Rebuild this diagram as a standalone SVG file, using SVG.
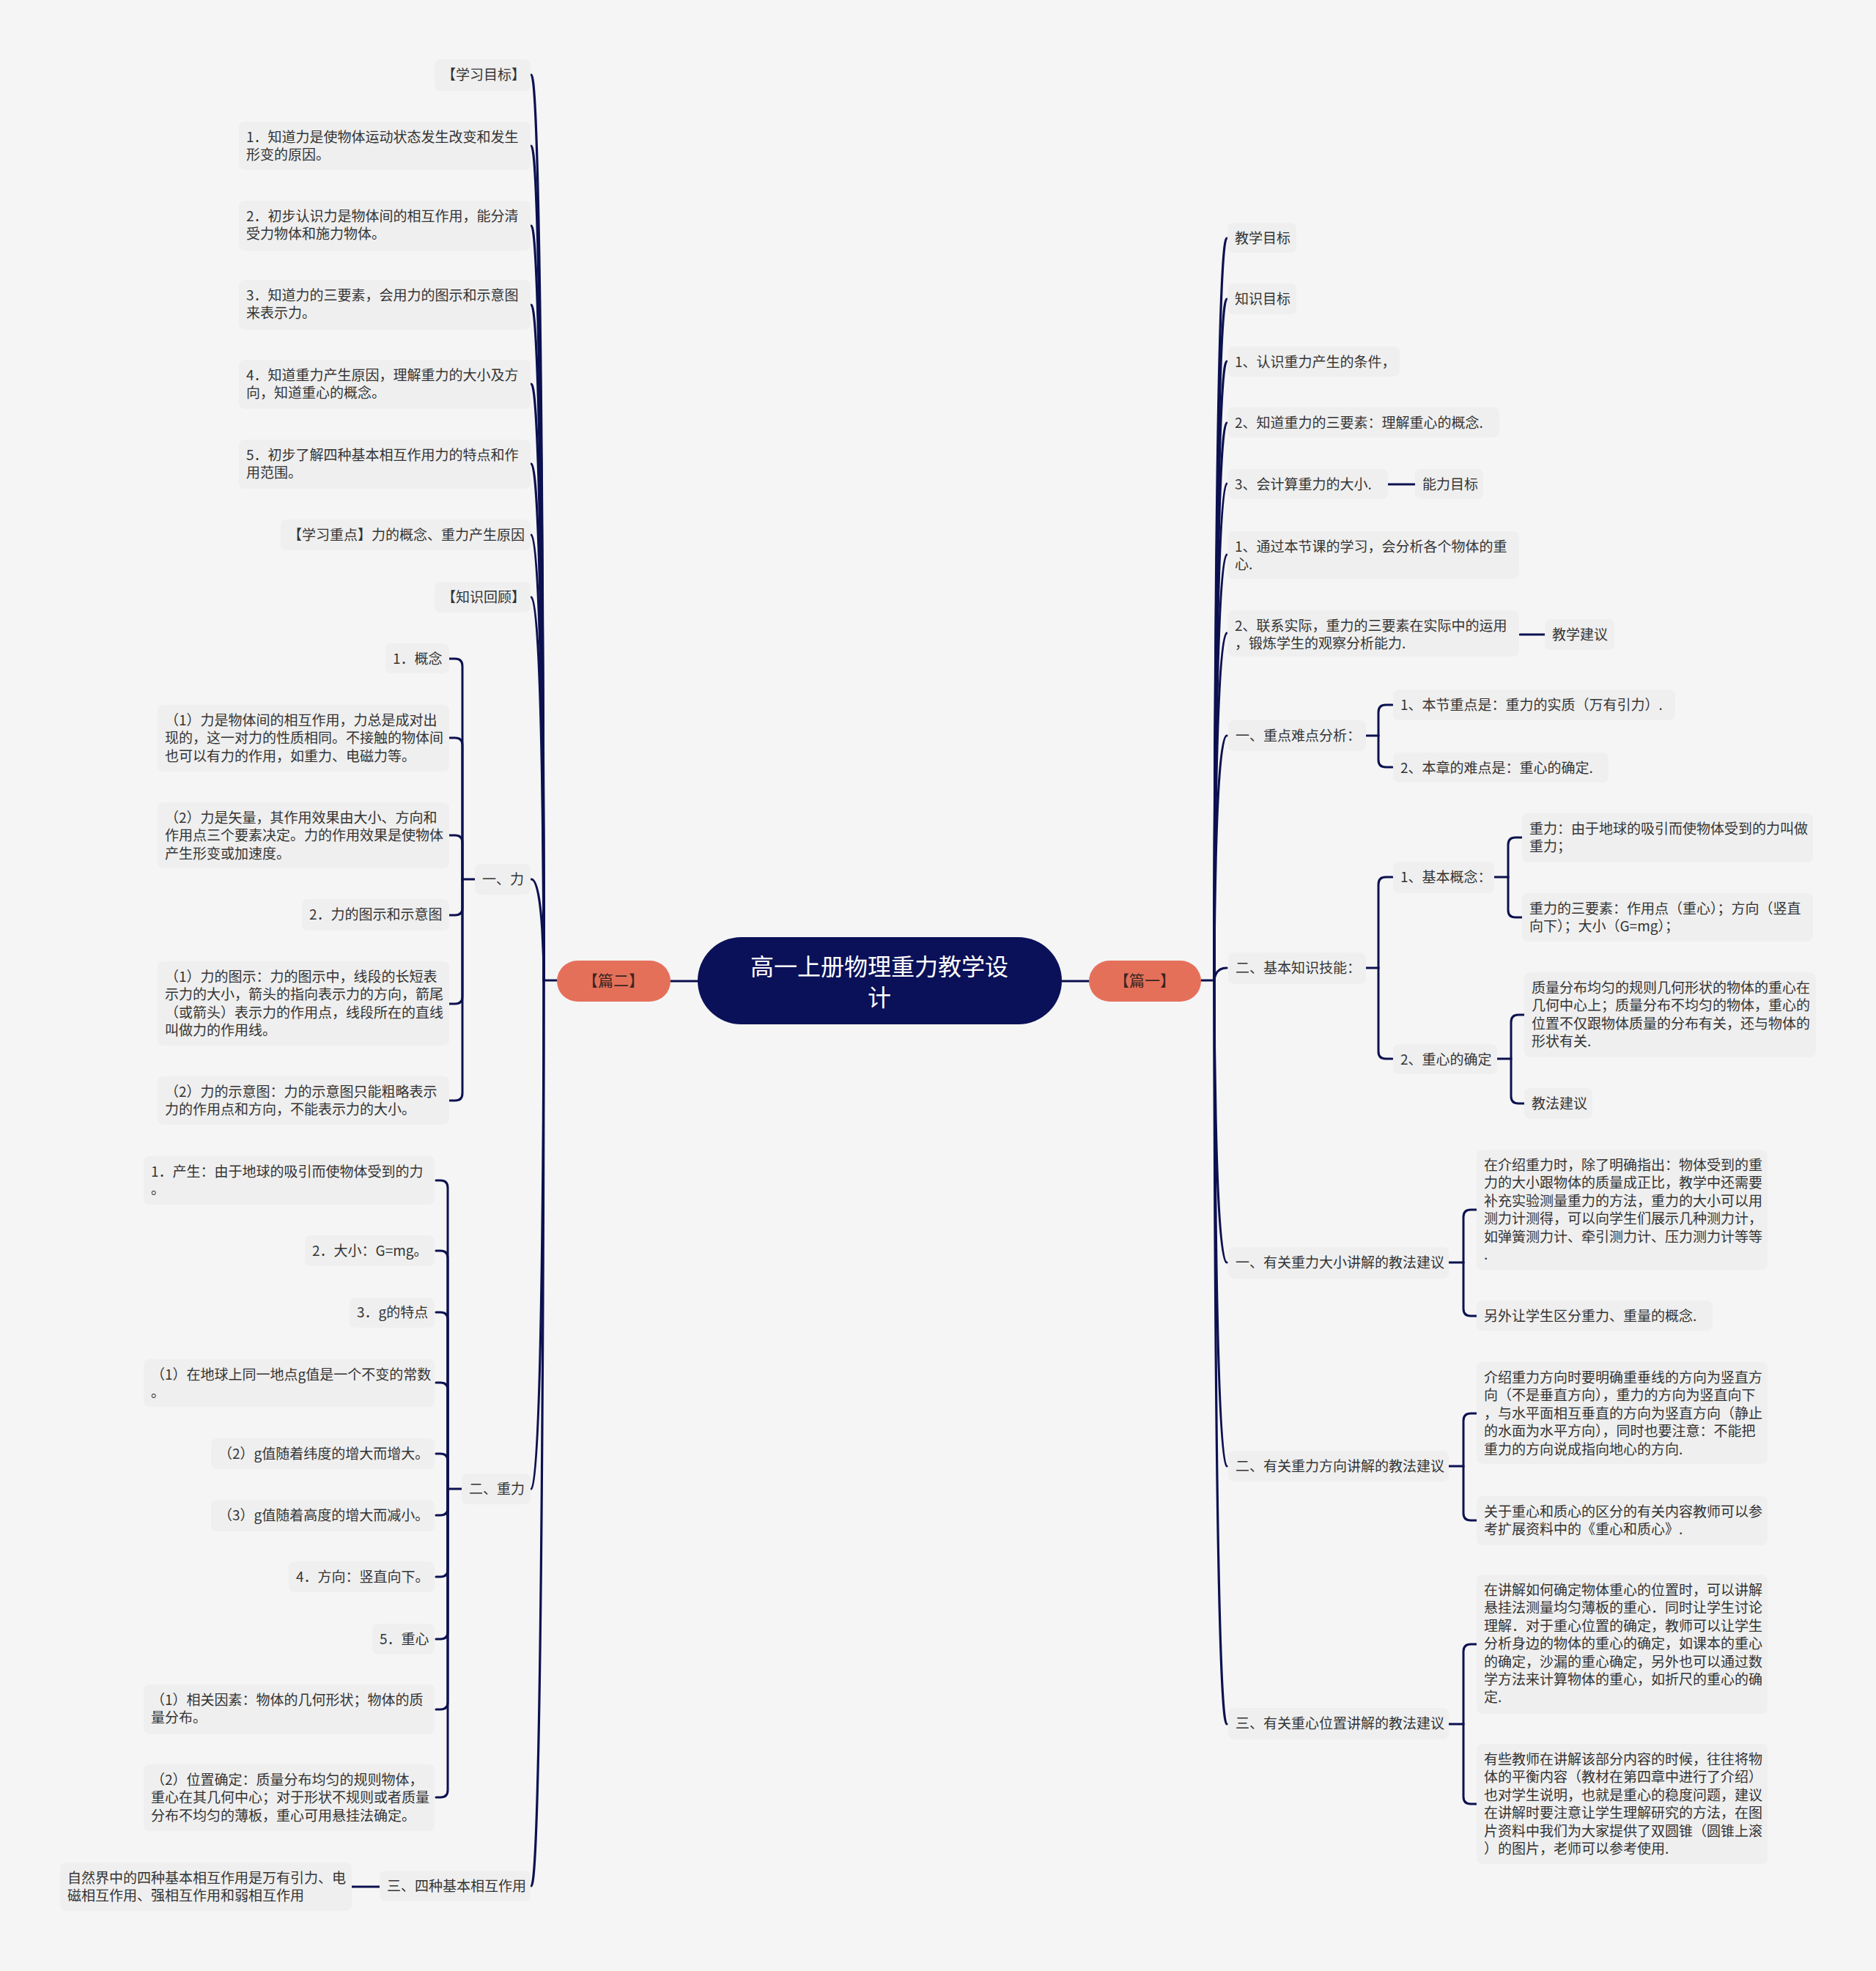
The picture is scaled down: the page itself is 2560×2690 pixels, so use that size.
<svg xmlns="http://www.w3.org/2000/svg" width="2560" height="2690" viewBox="0 0 2560 2690">
<style>
.bg{fill:#f5f5f5}
.box{fill:#efefef}
.t{font-family:"Noto Sans CJK SC","Noto Sans",sans-serif;font-size:19px;fill:#333}
.main{fill:none;stroke:#0c1150;stroke-width:3.2;stroke-linecap:round}
.sub{fill:none;stroke:#0c1150;stroke-width:3;stroke-linecap:round;stroke-linejoin:round}
.tag{fill:#e5705a}
.tagt{font-family:"Noto Sans CJK SC","Noto Sans",sans-serif;font-size:21px;fill:#3a2622;text-anchor:middle}
.roott{font-family:"Noto Sans CJK SC","Noto Sans",sans-serif;font-size:32px;fill:#ffffff;text-anchor:middle}
</style>
<rect class="bg" x="0" y="0" width="2560" height="2690"/>

<g id="connectors">
<!-- root to tags -->
<path class="main" d="M915,1339 H952 M1449,1339 H1486"/>
<path class="main" d="M760,1338 H742 M1639,1338 H1657"/>
<!-- left main branches -->
<path class="main" d="M725,102 C742,102 742,1338 742,1338"/>
<path class="main" d="M725,199 C742,199 742,1338 742,1338"/>
<path class="main" d="M725,308 C742,308 742,1338 742,1338"/>
<path class="main" d="M725,416 C742,416 742,1338 742,1338"/>
<path class="main" d="M725,524 C742,524 742,1338 742,1338"/>
<path class="main" d="M725,633 C742,633 742,1338 742,1338"/>
<path class="main" d="M725,730 C742,730 742,1338 742,1338"/>
<path class="main" d="M725,815 C742,815 742,1338 742,1338"/>
<path class="main" d="M725,1200 C742,1200 742,1338 742,1338"/>
<path class="main" d="M725,2032 C742,2032 742,1338 742,1338"/>
<path class="main" d="M725,2574 C742,2574 742,1338 742,1338"/>
<!-- right main branches -->
<path class="main" d="M1674,325 C1657,325 1657,1338 1657,1338"/>
<path class="main" d="M1674,408 C1657,408 1657,1338 1657,1338"/>
<path class="main" d="M1674,493 C1657,493 1657,1338 1657,1338"/>
<path class="main" d="M1674,577 C1657,577 1657,1338 1657,1338"/>
<path class="main" d="M1674,660 C1657,660 1657,1338 1657,1338"/>
<path class="main" d="M1674,757 C1657,757 1657,1338 1657,1338"/>
<path class="main" d="M1674,864 C1657,864 1657,1338 1657,1338"/>
<path class="main" d="M1674,1004 C1657,1004 1657,1338 1657,1338"/>
<path class="main" d="M1674,1321 C1657,1321 1657,1338 1657,1338"/>
<path class="main" d="M1674,1723 C1657,1723 1657,1338 1657,1338"/>
<path class="main" d="M1674,2001 C1657,2001 1657,1338 1657,1338"/>
<path class="main" d="M1674,2353 C1657,2353 1657,1338 1657,1338"/>
<!-- simple links -->
<path class="sub" d="M1894,661 H1931"/>
<path class="sub" d="M2074,866 H2108"/>
<path class="sub" d="M480,2575 H518"/>
<!-- 一、力 bracket -->
<path class="sub" d="M648,1200 H631"/>
<path class="sub" d="M631,1200 V909 Q631,899 621,899 H613"/>
<path class="sub" d="M631,1200 V1017 Q631,1007 621,1007 H613"/>
<path class="sub" d="M631,1200 V1150 Q631,1140 621,1140 H613"/>
<path class="sub" d="M631,1200 V1239 Q631,1249 621,1249 H613"/>
<path class="sub" d="M631,1200 V1360 Q631,1370 621,1370 H613"/>
<path class="sub" d="M631,1200 V1492 Q631,1502 621,1502 H613"/>
<!-- 二、重力 bracket -->
<path class="sub" d="M630,2032 H611"/>
<path class="sub" d="M611,2032 V1621 Q611,1611 601,1611 H595"/>
<path class="sub" d="M611,2032 V1717 Q611,1707 601,1707 H595"/>
<path class="sub" d="M611,2032 V1801 Q611,1791 601,1791 H595"/>
<path class="sub" d="M611,2032 V1897 Q611,1887 601,1887 H595"/>
<path class="sub" d="M611,2032 V1994 Q611,1984 601,1984 H595"/>
<path class="sub" d="M611,2032 V2058 Q611,2068 601,2068 H595"/>
<path class="sub" d="M611,2032 V2142 Q611,2152 601,2152 H595"/>
<path class="sub" d="M611,2032 V2227 Q611,2237 601,2237 H595"/>
<path class="sub" d="M611,2032 V2323 Q611,2333 601,2333 H595"/>
<path class="sub" d="M611,2032 V2443 Q611,2453 601,2453 H595"/>
<!-- 一、重点难点分析 -->
<path class="sub" d="M1864,1004 H1881"/>
<path class="sub" d="M1881,1004 V972 Q1881,962 1891,962 H1900"/>
<path class="sub" d="M1881,1004 V1037 Q1881,1047 1891,1047 H1900"/>
<!-- 二、基本知识技能 -->
<path class="sub" d="M1864,1321 H1881"/>
<path class="sub" d="M1881,1321 V1207 Q1881,1197 1891,1197 H1900"/>
<path class="sub" d="M1881,1321 V1435 Q1881,1445 1891,1445 H1900"/>
<!-- 1、基本概念 -->
<path class="sub" d="M2039,1197 H2058"/>
<path class="sub" d="M2058,1197 V1153 Q2058,1143 2068,1143 H2077"/>
<path class="sub" d="M2058,1197 V1242 Q2058,1252 2068,1252 H2077"/>
<!-- 2、重心的确定 -->
<path class="sub" d="M2043,1445 H2062"/>
<path class="sub" d="M2062,1445 V1395 Q2062,1385 2072,1385 H2080"/>
<path class="sub" d="M2062,1445 V1496 Q2062,1506 2072,1506 H2080"/>
<!-- 一、有关重力大小 -->
<path class="sub" d="M1977,1723 H1997"/>
<path class="sub" d="M1997,1723 V1661 Q1997,1651 2007,1651 H2015"/>
<path class="sub" d="M1997,1723 V1786 Q1997,1796 2007,1796 H2015"/>
<!-- 二、有关重力方向 -->
<path class="sub" d="M1977,2001 H1997"/>
<path class="sub" d="M1997,2001 V1939 Q1997,1929 2007,1929 H2015"/>
<path class="sub" d="M1997,2001 V2065 Q1997,2075 2007,2075 H2015"/>
<!-- 三、有关重心位置 -->
<path class="sub" d="M1977,2353 H1997"/>
<path class="sub" d="M1997,2353 V2254 Q1997,2244 2007,2244 H2015"/>
<path class="sub" d="M1997,2353 V2452 Q1997,2462 2007,2462 H2015"/>
</g>

<g id="root">
<rect x="952" y="1279" width="497" height="119" rx="59.5" fill="#0a1158"/>
<text class="roott" x="1200" y="1331">高一上册物理重力教学设</text>
<text class="roott" x="1200" y="1373">计</text>
</g>
<g id="pian2"><rect class="tag" x="760" y="1311" width="155" height="56" rx="28"/><text class="tagt" x="837" y="1346">【篇二】</text></g>
<g id="pian1"><rect class="tag" x="1486" y="1311" width="153" height="56" rx="28"/><text class="tagt" x="1562" y="1346">【篇一】</text></g>

<!-- left side -->
<g id="n_xxmb"><rect class="box" x="593" y="81" width="131" height="43" rx="8"/><text class="t" x="603" y="109">【学习目标】</text></g>
<g id="n_l1"><rect class="box" x="326" y="166" width="398" height="66" rx="8"/><text class="t"><tspan x="336" y="194">1．知道力是使物体运动状态发生改变和发生</tspan><tspan x="336" y="218">形变的原因。</tspan></text></g>
<g id="n_l2"><rect class="box" x="326" y="274" width="398" height="68" rx="8"/><text class="t"><tspan x="336" y="302">2．初步认识力是物体间的相互作用，能分清</tspan><tspan x="336" y="326">受力物体和施力物体。</tspan></text></g>
<g id="n_l3"><rect class="box" x="326" y="382" width="398" height="68" rx="8"/><text class="t"><tspan x="336" y="410">3．知道力的三要素，会用力的图示和示意图</tspan><tspan x="336" y="434">来表示力。</tspan></text></g>
<g id="n_l4"><rect class="box" x="326" y="491" width="398" height="67" rx="8"/><text class="t"><tspan x="336" y="519">4．知道重力产生原因，理解重力的大小及方</tspan><tspan x="336" y="543">向，知道重心的概念。</tspan></text></g>
<g id="n_l5"><rect class="box" x="326" y="600" width="398" height="67" rx="8"/><text class="t"><tspan x="336" y="628">5．初步了解四种基本相互作用力的特点和作</tspan><tspan x="336" y="652">用范围。</tspan></text></g>
<g id="n_xxzd"><rect class="box" x="383" y="709" width="341" height="42" rx="8"/><text class="t" x="393" y="737">【学习重点】力的概念、重力产生原因</text></g>
<g id="n_zshg"><rect class="box" x="593" y="794" width="131" height="42" rx="8"/><text class="t" x="603" y="822">【知识回顾】</text></g>

<g id="n_li"><rect class="box" x="648" y="1179" width="76" height="42" rx="8"/><text class="t" x="658" y="1207">一、力</text></g>
<g id="n_li1"><rect class="box" x="526" y="878" width="87" height="41" rx="8"/><text class="t" x="536" y="906">1．概念</text></g>
<g id="n_li2"><rect class="box" x="215" y="962" width="398" height="91" rx="8"/><text class="t"><tspan x="225" y="990">（1）力是物体间的相互作用，力总是成对出</tspan><tspan x="225" y="1014">现的，这一对力的性质相同。不接触的物体间</tspan><tspan x="225" y="1039">也可以有力的作用，如重力、电磁力等。</tspan></text></g>
<g id="n_li3"><rect class="box" x="215" y="1095" width="398" height="90" rx="8"/><text class="t"><tspan x="225" y="1123">（2）力是矢量，其作用效果由大小、方向和</tspan><tspan x="225" y="1147">作用点三个要素决定。力的作用效果是使物体</tspan><tspan x="225" y="1172">产生形变或加速度。</tspan></text></g>
<g id="n_li4"><rect class="box" x="412" y="1227" width="201" height="43" rx="8"/><text class="t" x="422" y="1255">2．力的图示和示意图</text></g>
<g id="n_li5"><rect class="box" x="215" y="1312" width="398" height="115" rx="8"/><text class="t"><tspan x="225" y="1340">（1）力的图示：力的图示中，线段的长短表</tspan><tspan x="225" y="1364">示力的大小，箭头的指向表示力的方向，箭尾</tspan><tspan x="225" y="1389">（或箭头）表示力的作用点，线段所在的直线</tspan><tspan x="225" y="1413">叫做力的作用线。</tspan></text></g>
<g id="n_li6"><rect class="box" x="215" y="1469" width="398" height="66" rx="8"/><text class="t"><tspan x="225" y="1497">（2）力的示意图：力的示意图只能粗略表示</tspan><tspan x="225" y="1521">力的作用点和方向，不能表示力的大小。</tspan></text></g>

<g id="n_zl"><rect class="box" x="630" y="2011" width="94" height="42" rx="8"/><text class="t" x="640" y="2039">二、重力</text></g>
<g id="n_zl1"><rect class="box" x="196" y="1578" width="397" height="66" rx="8"/><text class="t"><tspan x="206" y="1606">1．产生：由于地球的吸引而使物体受到的力</tspan><tspan x="206" y="1630">。</tspan></text></g>
<g id="n_zl2"><rect class="box" x="416" y="1686" width="177" height="42" rx="8"/><text class="t" x="426" y="1714">2．大小：G=mg。</text></g>
<g id="n_zl3"><rect class="box" x="477" y="1771" width="116" height="41" rx="8"/><text class="t" x="487" y="1798">3．g的特点</text></g>
<g id="n_zl4"><rect class="box" x="196" y="1855" width="397" height="65" rx="8"/><text class="t"><tspan x="206" y="1883">（1）在地球上同一地点g值是一个不变的常数</tspan><tspan x="206" y="1907">。</tspan></text></g>
<g id="n_zl5"><rect class="box" x="288" y="1963" width="305" height="42" rx="8"/><text class="t" x="298" y="1991">（2）g值随着纬度的增大而增大。</text></g>
<g id="n_zl6"><rect class="box" x="288" y="2047" width="305" height="43" rx="8"/><text class="t" x="298" y="2075">（3）g值随着高度的增大而减小。</text></g>
<g id="n_zl7"><rect class="box" x="394" y="2131" width="199" height="42" rx="8"/><text class="t" x="404" y="2159">4．方向：竖直向下。</text></g>
<g id="n_zl8"><rect class="box" x="508" y="2216" width="85" height="42" rx="8"/><text class="t" x="518" y="2244">5．重心</text></g>
<g id="n_zl9"><rect class="box" x="196" y="2299" width="397" height="68" rx="8"/><text class="t"><tspan x="206" y="2327">（1）相关因素：物体的几何形状；物体的质</tspan><tspan x="206" y="2351">量分布。</tspan></text></g>
<g id="n_zl10"><rect class="box" x="196" y="2408" width="397" height="91" rx="8"/><text class="t"><tspan x="206" y="2436">（2）位置确定：质量分布均匀的规则物体，</tspan><tspan x="206" y="2460">重心在其几何中心；对于形状不规则或者质量</tspan><tspan x="206" y="2485">分布不均匀的薄板，重心可用悬挂法确定。</tspan></text></g>

<g id="n_sz"><rect class="box" x="518" y="2553" width="206" height="42" rx="8"/><text class="t" x="528" y="2581">三、四种基本相互作用</text></g>
<g id="n_sz1"><rect class="box" x="82" y="2542" width="398" height="66" rx="8"/><text class="t"><tspan x="92" y="2570">自然界中的四种基本相互作用是万有引力、电</tspan><tspan x="92" y="2594">磁相互作用、强相互作用和弱相互作用</tspan></text></g>

<!-- right side -->
<g id="n_jxmb"><rect class="box" x="1675" y="304" width="94" height="41" rx="8"/><text class="t" x="1685" y="332">教学目标</text></g>
<g id="n_zsmb"><rect class="box" x="1675" y="387" width="94" height="42" rx="8"/><text class="t" x="1685" y="415">知识目标</text></g>
<g id="n_r1"><rect class="box" x="1675" y="473" width="235" height="41" rx="8"/><text class="t" x="1685" y="501">1、认识重力产生的条件，</text></g>
<g id="n_r2"><rect class="box" x="1675" y="556" width="371" height="41" rx="8"/><text class="t" x="1685" y="584">2、知道重力的三要素：理解重心的概念.</text></g>
<g id="n_r3"><rect class="box" x="1675" y="640" width="219" height="41" rx="8"/><text class="t" x="1685" y="668">3、会计算重力的大小.</text></g>
<g id="n_nlmb"><rect class="box" x="1931" y="640" width="93" height="41" rx="8"/><text class="t" x="1941" y="668">能力目标</text></g>
<g id="n_r4"><rect class="box" x="1675" y="725" width="398" height="65" rx="8"/><text class="t"><tspan x="1685" y="753">1、通过本节课的学习，会分析各个物体的重</tspan><tspan x="1685" y="777">心.</tspan></text></g>
<g id="n_r5"><rect class="box" x="1675" y="833" width="398" height="63" rx="8"/><text class="t"><tspan x="1685" y="861">2、联系实际，重力的三要素在实际中的运用</tspan><tspan x="1685" y="885">，锻炼学生的观察分析能力.</tspan></text></g>
<g id="n_jxjy"><rect class="box" x="2108" y="845" width="95" height="42" rx="8"/><text class="t" x="2118" y="873">教学建议</text></g>

<g id="n_zdnd"><rect class="box" x="1676" y="983" width="188" height="42" rx="8"/><text class="t" x="1686" y="1011">一、重点难点分析：</text></g>
<g id="n_zd1"><rect class="box" x="1901" y="941" width="385" height="42" rx="8"/><text class="t" x="1911" y="969">1、本节重点是：重力的实质（万有引力）.</text></g>
<g id="n_zd2"><rect class="box" x="1901" y="1027" width="294" height="41" rx="8"/><text class="t" x="1911" y="1055">2、本章的难点是：重心的确定.</text></g>

<g id="n_jbzs"><rect class="box" x="1676" y="1300" width="188" height="43" rx="8"/><text class="t" x="1686" y="1328">二、基本知识技能：</text></g>
<g id="n_gn"><rect class="box" x="1901" y="1176" width="138" height="43" rx="8"/><text class="t" x="1911" y="1204">1、基本概念：</text></g>
<g id="n_gn1"><rect class="box" x="2077" y="1110" width="397" height="67" rx="8"/><text class="t"><tspan x="2087" y="1138">重力：由于地球的吸引而使物体受到的力叫做</tspan><tspan x="2087" y="1162">重力；</tspan></text></g>
<g id="n_gn2"><rect class="box" x="2077" y="1219" width="397" height="66" rx="8"/><text class="t"><tspan x="2087" y="1247">重力的三要素：作用点（重心）；方向（竖直</tspan><tspan x="2087" y="1271">向下）；大小（G=mg）；</tspan></text></g>
<g id="n_zx"><rect class="box" x="1901" y="1425" width="142" height="41" rx="8"/><text class="t" x="1911" y="1453">2、重心的确定</text></g>
<g id="n_zx1"><rect class="box" x="2080" y="1327" width="398" height="116" rx="8"/><text class="t"><tspan x="2090" y="1355">质量分布均匀的规则几何形状的物体的重心在</tspan><tspan x="2090" y="1379">几何中心上；质量分布不均匀的物体，重心的</tspan><tspan x="2090" y="1404">位置不仅跟物体质量的分布有关，还与物体的</tspan><tspan x="2090" y="1428">形状有关.</tspan></text></g>
<g id="n_zx2"><rect class="box" x="2080" y="1485" width="93" height="42" rx="8"/><text class="t" x="2090" y="1513">教法建议</text></g>

<g id="n_dx"><rect class="box" x="1676" y="1702" width="301" height="43" rx="8"/><text class="t" x="1686" y="1730">一、有关重力大小讲解的教法建议</text></g>
<g id="n_dx1"><rect class="box" x="2015" y="1569" width="397" height="164" rx="8"/><text class="t"><tspan x="2025" y="1597">在介绍重力时，除了明确指出：物体受到的重</tspan><tspan x="2025" y="1621">力的大小跟物体的质量成正比，教学中还需要</tspan><tspan x="2025" y="1646">补充实验测量重力的方法，重力的大小可以用</tspan><tspan x="2025" y="1670">测力计测得，可以向学生们展示几种测力计，</tspan><tspan x="2025" y="1695">如弹簧测力计、牵引测力计、压力测力计等等</tspan><tspan x="2025" y="1719">.</tspan></text></g>
<g id="n_dx2"><rect class="box" x="2015" y="1775" width="322" height="41" rx="8"/><text class="t" x="2025" y="1803">另外让学生区分重力、重量的概念.</text></g>

<g id="n_fx"><rect class="box" x="1676" y="1980" width="301" height="42" rx="8"/><text class="t" x="1686" y="2008">二、有关重力方向讲解的教法建议</text></g>
<g id="n_fx1"><rect class="box" x="2015" y="1859" width="397" height="139" rx="8"/><text class="t"><tspan x="2025" y="1887">介绍重力方向时要明确重垂线的方向为竖直方</tspan><tspan x="2025" y="1911">向（不是垂直方向），重力的方向为竖直向下</tspan><tspan x="2025" y="1936">，与水平面相互垂直的方向为竖直方向（静止</tspan><tspan x="2025" y="1960">的水面为水平方向），同时也要注意：不能把</tspan><tspan x="2025" y="1985">重力的方向说成指向地心的方向.</tspan></text></g>
<g id="n_fx2"><rect class="box" x="2015" y="2042" width="397" height="67" rx="8"/><text class="t"><tspan x="2025" y="2070">关于重心和质心的区分的有关内容教师可以参</tspan><tspan x="2025" y="2094">考扩展资料中的《重心和质心》.</tspan></text></g>

<g id="n_wz"><rect class="box" x="1676" y="2331" width="301" height="43" rx="8"/><text class="t" x="1686" y="2359">三、有关重心位置讲解的教法建议</text></g>
<g id="n_wz1"><rect class="box" x="2015" y="2149" width="397" height="190" rx="8"/><text class="t"><tspan x="2025" y="2177">在讲解如何确定物体重心的位置时，可以讲解</tspan><tspan x="2025" y="2201">悬挂法测量均匀薄板的重心．同时让学生讨论</tspan><tspan x="2025" y="2226">理解．对于重心位置的确定，教师可以让学生</tspan><tspan x="2025" y="2250">分析身边的物体的重心的确定，如课本的重心</tspan><tspan x="2025" y="2275">的确定，沙漏的重心确定，另外也可以通过数</tspan><tspan x="2025" y="2299">学方法来计算物体的重心，如折尺的重心的确</tspan><tspan x="2025" y="2323">定.</tspan></text></g>
<g id="n_wz2"><rect class="box" x="2015" y="2380" width="397" height="164" rx="8"/><text class="t"><tspan x="2025" y="2408">有些教师在讲解该部分内容的时候，往往将物</tspan><tspan x="2025" y="2432">体的平衡内容（教材在第四章中进行了介绍）</tspan><tspan x="2025" y="2457">也对学生说明，也就是重心的稳度问题，建议</tspan><tspan x="2025" y="2481">在讲解时要注意让学生理解研究的方法，在图</tspan><tspan x="2025" y="2506">片资料中我们为大家提供了双圆锥（圆锥上滚</tspan><tspan x="2025" y="2530">）的图片，老师可以参考使用.</tspan></text></g>
</svg>
